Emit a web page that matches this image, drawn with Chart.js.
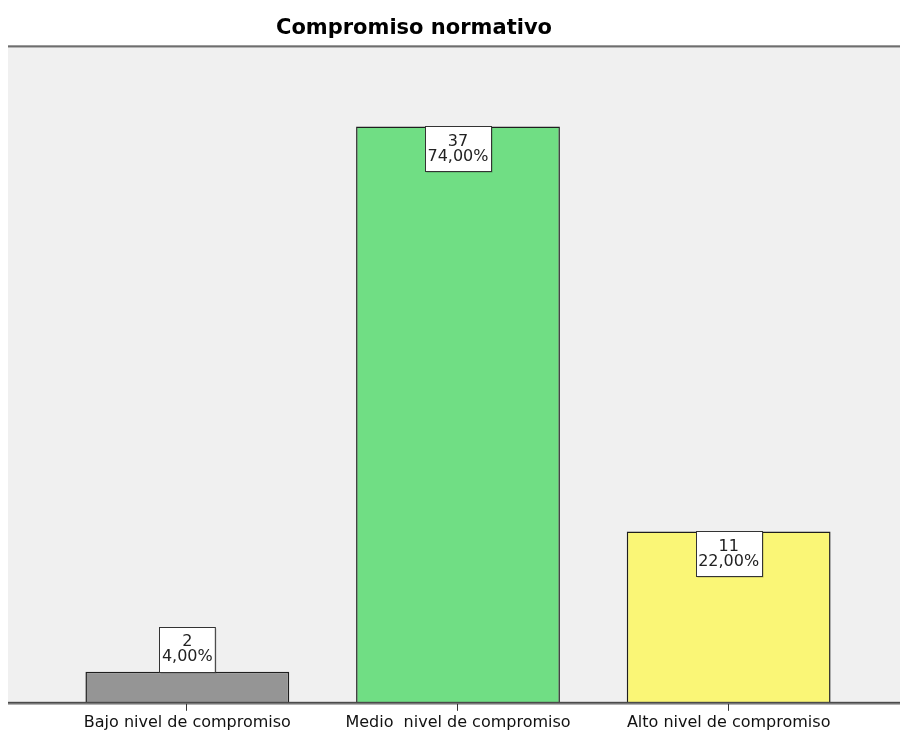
<!DOCTYPE html>
<html lang="es">
<head>
  <meta charset="UTF-8">
  <title>Compromiso normativo</title>
  <script src="https://cdn.jsdelivr.net/npm/chart.js"></script>
  <style>
    html, body { margin: 0; padding: 0; background: #fff; }
    #wrap { width: 900px; height: 736px; position: relative; }
  </style>
</head>
<body>
  <div id="wrap"><canvas id="grafico"></canvas></div>
  <script>
    // Datos
    const categorias = ['Bajo nivel de compromiso', 'Medio  nivel de compromiso', 'Alto nivel de compromiso'];
    const frecuencias = [2, 37, 11];
    const porcentajes = ['4,00%', '74,00%', '22,00%'];
    const colores = ['#959595', '#70de84', '#faf676'];
    const titulo = 'Compromiso normativo';

    const FONT = '"DejaVu Sans", Arial, sans-serif';

    // Fondo gris, línea superior y línea base a lo ancho del gráfico
    const fondo = {
      id: 'fondo',
      beforeDraw(chart) {
        const { ctx } = chart;
        const y = chart.scales.y;
        const top = y.top, base = y.bottom;
        ctx.save();
        ctx.fillStyle = '#f0f0f0';
        ctx.fillRect(8, top, 892, base - top);
        // línea superior
        ctx.fillStyle = '#9a9a9a';
        ctx.fillRect(8, top - 2, 892, 1);
        ctx.fillStyle = '#6e6e6e';
        ctx.fillRect(8, top - 1, 892, 1);
        ctx.fillStyle = '#b5b5b5';
        ctx.fillRect(8, top, 892, 1);
        // título
        ctx.fillStyle = '#000';
        ctx.font = 'bold 21px ' + FONT;
        ctx.textAlign = 'center';
        ctx.textBaseline = 'middle';
        ctx.fillText(titulo, 414, 29);
        ctx.restore();
      },
      afterDatasetsDraw(chart) {
        const { ctx } = chart;
        const y = chart.scales.y;
        const base = y.bottom;
        ctx.save();
        ctx.fillStyle = '#4a4a4a';
        ctx.fillRect(8, base - 1, 892, 2);
        ctx.fillStyle = '#a0a0a0';
        ctx.fillRect(8, base + 1, 892, 1);
        // marcas de categoría
        ctx.fillStyle = '#333';
        chart.getDatasetMeta(0).data.forEach(bar => {
          ctx.fillRect(Math.round(bar.x) - 1, base + 1, 1, 7);
        });

        // etiquetas con frecuencia y porcentaje
        ctx.font = '16px ' + FONT;
        ctx.textAlign = 'center';
        ctx.textBaseline = 'middle';
        chart.getDatasetMeta(0).data.forEach((bar, i) => {
          const l1 = String(frecuencias[i]);
          const l2 = porcentajes[i];
          const w = Math.max(ctx.measureText(l1).width, ctx.measureText(l2).width) + 5;
          const h = 45;
          const barH = bar.base - bar.y;
          const top = barH > h + 4 ? bar.y : bar.y - h;
          const x0 = Math.round(bar.x - w / 2) + 0.5;
          const y0 = Math.round(top) + 0.5;
          ctx.fillStyle = 'rgba(0,0,0,0.25)';
          ctx.fillRect(x0 + 1, y0 + 1, w, h);
          ctx.fillStyle = '#fff';
          ctx.fillRect(x0, y0, w, h);
          ctx.strokeStyle = '#333';
          ctx.lineWidth = 1;
          ctx.strokeRect(x0, y0, w, h);
          ctx.fillStyle = '#222';
          ctx.fillText(l1, bar.x, top + 15);
          ctx.fillText(l2, bar.x, top + 30);
        });
        ctx.restore();
      }
    };

    new Chart(document.getElementById('grafico'), {
      type: 'bar',
      data: {
        labels: categorias,
        datasets: [{
          data: frecuencias,
          backgroundColor: colores,
          borderColor: '#1e1e1e',
          borderWidth: 1.5,
          borderSkipped: 'bottom',
          barPercentage: 0.753,
          categoryPercentage: 1
        }]
      },
      options: {
        responsive: true,
        maintainAspectRatio: false,
        animation: false,
        layout: { padding: { left: 52, right: 36, top: 47, bottom: -6 } },
        plugins: {
          legend: { display: false },
          tooltip: { enabled: false },
          title: { display: false }
        },
        scales: {
          x: {
            grid: { display: false, drawTicks: false },
            border: { display: false },
            ticks: {
              color: '#111',
              font: { family: FONT, size: 16 },
              padding: 10,
              maxRotation: 0
            }
          },
          y: {
            display: false,
            min: 0,
            max: 42.1
          }
        }
      },
      plugins: [fondo]
    });
  </script>
</body>
</html>
